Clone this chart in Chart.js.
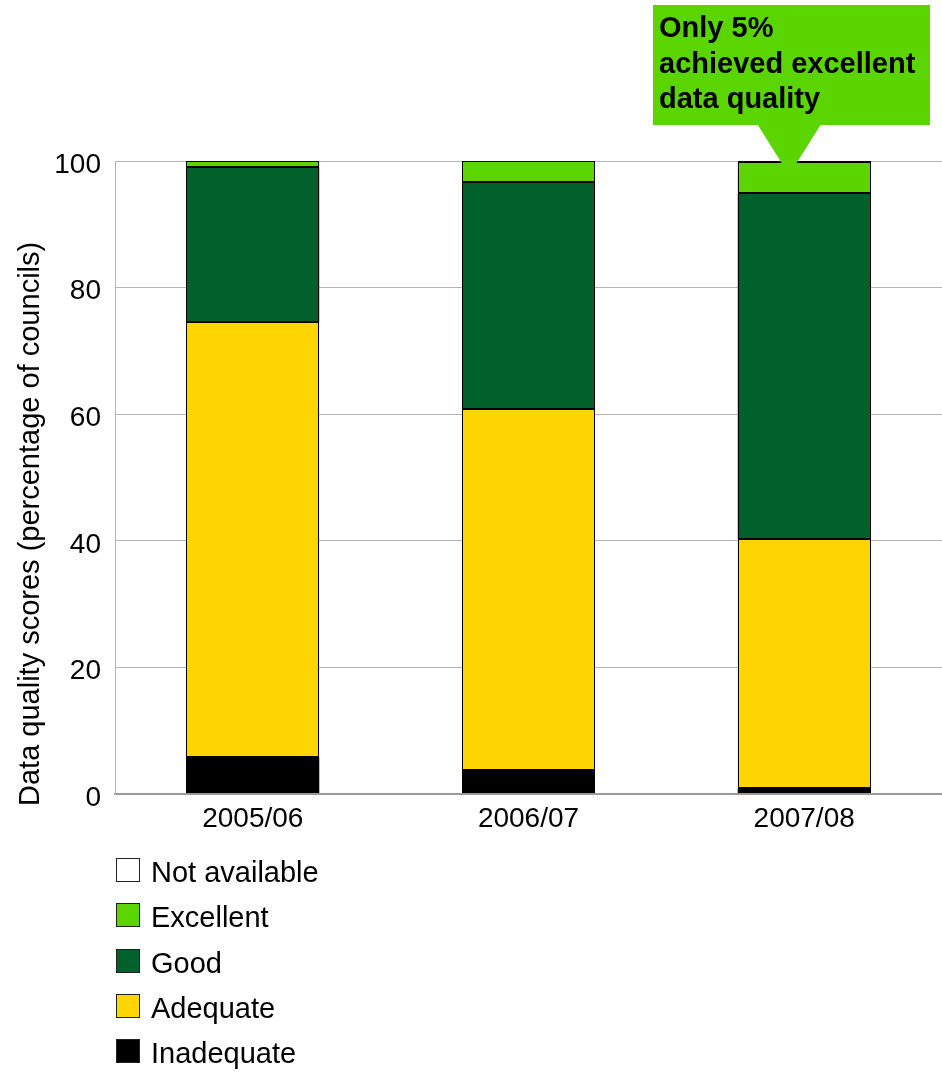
<!DOCTYPE html>
<html>
<head>
<meta charset="utf-8">
<title>Data quality scores</title>
<script src="https://cdn.jsdelivr.net/npm/chart.js@4/dist/chart.umd.min.js"></script>
<style>
  html, body { margin: 0; padding: 0; background: #ffffff; }
  #wrap { width: 942px; height: 1072px; }
</style>
</head>
<body>
<div id="wrap"><canvas id="chart" width="942" height="1072"></canvas></div>
<script>
// Reporting years
const categories = ['2005/06', '2006/07', '2007/08'];

// Share of councils in each data quality band (%), stacked bottom to top
const inadequate   = [5.8, 3.8, 0.9];
const adequate     = [68.7, 57.1, 39.4];
const good         = [24.5, 35.8, 54.6];
const excellent    = [1.0, 3.3, 4.9];
const notAvailable = [0, 0, 0.2];

// Y axis ticks
const yTicks = [0, 20, 40, 60, 80, 100];

const yTitle = 'Data quality scores (percentage of councils)';
const calloutLines = ['Only 5%', 'achieved excellent', 'data quality'];

const FONT = '"Liberation Sans", Arial, Helvetica, sans-serif';
const GREEN_LIGHT = '#5bd500';

const datasets = [
  { label: 'Inadequate',    data: inadequate,   backgroundColor: '#000000' },
  { label: 'Adequate',      data: adequate,     backgroundColor: '#ffd500' },
  { label: 'Good',          data: good,         backgroundColor: '#00612b' },
  { label: 'Excellent',     data: excellent,    backgroundColor: GREEN_LIGHT },
  { label: 'Not available', data: notAvailable, backgroundColor: '#ffffff' }
].map(d => Object.assign(d, {
  borderWidth: 0,
  categoryPercentage: 1.0,
  barPercentage: 0.482
}));

// Pixel-snapped outlines, axis title, vertical legend and the highlight callout
const overlay = {
  id: 'overlay',
  afterDatasetsDraw(chart) {
    const ctx = chart.ctx;
    ctx.save();
    // crisp black outline round every stacked segment
    ctx.strokeStyle = '#000000';
    ctx.fillStyle = '#000000';
    ctx.lineWidth = 1;
    chart.data.datasets.forEach((ds, i) => {
      chart.getDatasetMeta(i).data.forEach(bar => {
        const l = Math.round(bar.x - bar.width / 2);
        const r = Math.round(bar.x + bar.width / 2);
        const t = Math.round(Math.min(bar.y, bar.base));
        const b = Math.round(Math.max(bar.y, bar.base));
        const h = Math.abs(bar.base - bar.y);
        if (h < 0.5) return;
        if (b - t <= 2) { ctx.fillRect(l, t, r - l, Math.max(b - t, 1)); return; }
        ctx.strokeRect(l + 0.5, t + 0.5, r - l - 1, b - t - 1);
      });
    });
    ctx.restore();

    const x = chart.scales.x, y = chart.scales.y;
    const cx = x.getPixelForValue(2) - 15;
    const topY = y.getPixelForValue(100);
    ctx.save();
    ctx.fillStyle = GREEN_LIGHT;
    // pointer
    ctx.beginPath();
    ctx.moveTo(cx - 32, 124);
    ctx.lineTo(cx + 32, 124);
    ctx.lineTo(cx, topY + 14);
    ctx.closePath();
    ctx.fill();
    // box
    ctx.fillRect(653, 5, 277, 120);
    ctx.fillStyle = '#000000';
    ctx.font = 'bold 29px ' + FONT;
    ctx.textAlign = 'left';
    ctx.textBaseline = 'alphabetic';
    calloutLines.forEach((t, i) => ctx.fillText(t, 659, 37 + i * 35.7));
    ctx.restore();
  },
  afterDraw(chart) {
    const ctx = chart.ctx;
    ctx.save();
    // y axis title
    ctx.translate(39, 806);
    ctx.rotate(-Math.PI / 2);
    ctx.fillStyle = '#000000';
    ctx.font = '29px ' + FONT;
    ctx.textAlign = 'left';
    ctx.textBaseline = 'alphabetic';
    ctx.fillText(yTitle, 0, 0);
    ctx.restore();

    // legend, top entry is the top of the stack
    ctx.save();
    const items = chart.data.datasets.slice().reverse();
    items.forEach((ds, i) => {
      const top = Math.round(858 + i * 45.3);
      ctx.fillStyle = ds.backgroundColor;
      ctx.fillRect(116, top, 24, 24);
      ctx.strokeStyle = '#222222';
      ctx.lineWidth = 1;
      ctx.strokeRect(116.5, top + 0.5, 23, 23);
      ctx.fillStyle = '#000000';
      ctx.font = '29px ' + FONT;
      ctx.textAlign = 'left';
      ctx.textBaseline = 'alphabetic';
      ctx.fillText(ds.label, 151, top + 24);
    });
    ctx.restore();
  }
};

new Chart(document.getElementById('chart'), {
  type: 'bar',
  data: { labels: categories, datasets: datasets },
  options: {
    responsive: false,
    devicePixelRatio: 1,
    animation: false,
    layout: { padding: { top: 161, right: 0, bottom: 228, left: 0 } },
    plugins: {
      legend: { display: false },
      tooltip: { enabled: false },
      title: { display: false }
    },
    scales: {
      x: {
        stacked: true,
        grid: { display: false, drawTicks: false },
        border: { display: true, color: '#9a9a9a', width: 2 },
        ticks: { color: '#000000', font: { family: FONT, size: 28 }, padding: 8 },
        afterFit(scale) { scale.height = 50; }
      },
      y: {
        stacked: true,
        min: 0,
        max: 100,
        afterBuildTicks(scale) { scale.ticks = yTicks.map(v => ({ value: v })); },
        grid: {
          drawTicks: false,
          color: ctx => ctx.tick && ctx.tick.value === 0 ? '#9a9a9a' : '#b4b4b4',
          lineWidth: ctx => ctx.tick && ctx.tick.value === 0 ? 2 : 1
        },
        border: { display: true, color: '#b4b4b4', width: 1 },
        ticks: { color: '#000000', font: { family: FONT, size: 28 }, padding: 14, labelOffset: 4 },
        afterFit(scale) { scale.width = 115; }
      }
    }
  },
  plugins: [overlay]
});
</script>
</body>
</html>
